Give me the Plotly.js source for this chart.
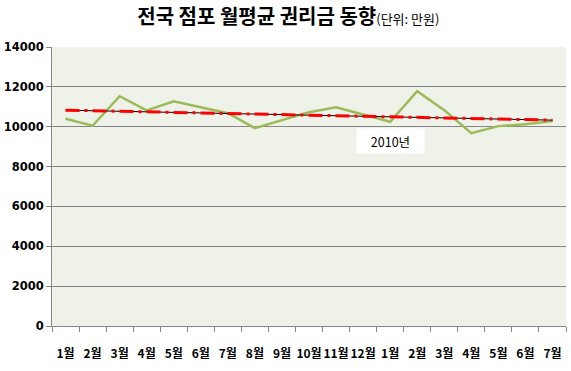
<!DOCTYPE html>
<html>
<head>
<meta charset="utf-8">
<script src="https://cdn.plot.ly/plotly-3.0.1.min.js"></script>
<style>html,body{margin:0;padding:0;background:#fff;}#chart{width:571px;height:371px;}</style>
</head>
<body>
<div id="chart"></div>
<script>
const monthLabels = ["1월","2월","3월","4월","5월","6월","7월","8월","9월","10월","11월","12월","1월","2월","3월","4월","5월","6월","7월"];
const monthIndex = [0,1,2,3,4,5,6,7,8,9,10,11,12,13,14,15,16,17,18];
const premium = [10400,10050,11530,10820,11280,10970,10680,9930,10330,10730,10980,10600,10250,11780,10830,9680,10030,10120,10280];
const trendX = [0, 18];
const trendBlack = [10830, 10330];
const trendRed = [10830, 10330];
const yTicks = [0,2000,4000,6000,8000,10000,12000,14000];
const boundaries = [-0.5,0.5,1.5,2.5,3.5,4.5,5.5,6.5,7.5,8.5,9.5,10.5,11.5,12.5,13.5,14.5,15.5,16.5,17.5,18.5];

const traces = [
  {x: monthIndex, y: premium, type: 'scatter', mode: 'lines', line: {color: '#9BBB59', width: 2.5}, hoverinfo: 'skip'},
  {x: trendX, y: trendBlack, type: 'scatter', mode: 'lines', line: {color: '#000000', width: 1}, hoverinfo: 'skip'},
  {x: trendX, y: trendRed, type: 'scatter', mode: 'lines', line: {color: '#FF0000', width: 3, dash: '14px,5px,3px,5px'}, hoverinfo: 'skip'}
];

const layout = {
  width: 571, height: 371,
  margin: {l: 52, r: 5, t: 47, b: 45},
  paper_bgcolor: '#ffffff',
  plot_bgcolor: '#EEF2E8',
  showlegend: false,
  font: {family: 'Noto Sans CJK KR, sans-serif', color: '#000'},
  title: {
    text: '<b>전국 점포 월평균 권리금 동향</b><span style="font-size:13px">(단위: 만원)</span>',
    font: {family: 'Noto Sans CJK KR', size: 20, color: '#000'},
    x: 0.505, xanchor: 'center', y: 0.955, yanchor: 'middle'
  },
  xaxis: {
    range: [-0.5, 18.5],
    tickmode: 'array', tickvals: monthIndex, ticktext: monthLabels.map(s => '<b>' + s + '</b>'),
    tickangle: 0,
    ticks: '', ticklen: 0, ticklabelstandoff: 17,
    tickfont: {family: 'Noto Sans CJK KR', size: 12, color: '#000'},
    showgrid: false, zeroline: false,
    showline: true, linecolor: '#868686', linewidth: 1,
    minor: {tickmode: 'array', tickvals: boundaries, ticks: 'outside', ticklen: 5, tickcolor: '#868686', showgrid: false},
    fixedrange: true
  },
  yaxis: {
    range: [0, 14000],
    tickmode: 'array', tickvals: yTicks, ticktext: yTicks.map(v => '<b>' + v + '</b>'),
    ticks: 'outside', ticklen: 5, tickcolor: '#868686',
    tickfont: {family: 'DejaVu Sans, sans-serif', size: 11.5, color: '#000'},
    showgrid: true, gridcolor: '#868686', gridwidth: 1,
    zeroline: false, showline: true, linecolor: '#868686', linewidth: 1,
    fixedrange: true
  },
  annotations: [{
    x: 12.0, y: 9270, xref: 'x', yref: 'y', text: '2010년', showarrow: false,
    bgcolor: '#ffffff', font: {family: 'Noto Sans CJK KR', size: 12.5, color: '#000'},
    width: 67, height: 24, borderpad: 0
  }]
};

Plotly.newPlot('chart', traces, layout, {displayModeBar: false, staticPlot: true});
</script>
</body>
</html>
